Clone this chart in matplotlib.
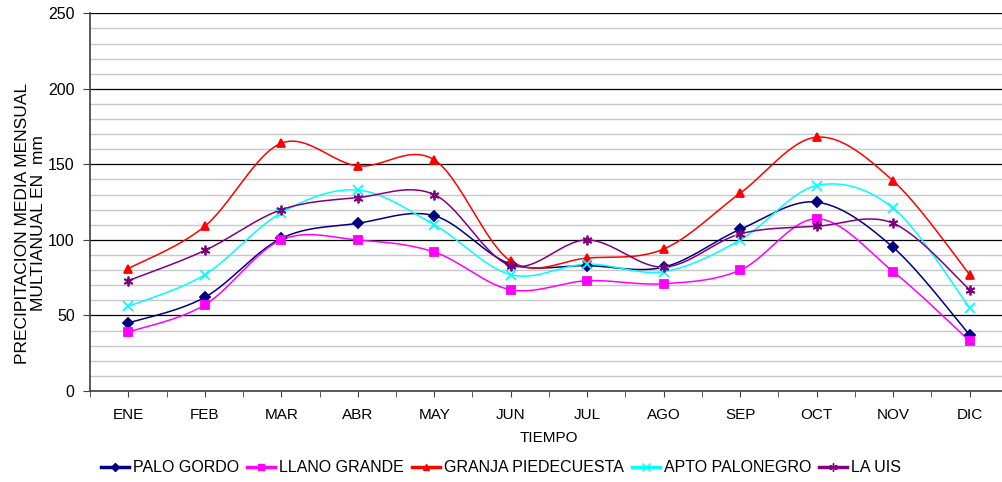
"""
Precipitación media mensual multianual por estación.
Líneas suavizadas al estilo de Excel (curvas Bezier tipo Catmull-Rom).
"""

import matplotlib

matplotlib.use("Agg")
import matplotlib.pyplot as plt
import numpy as np
from matplotlib.lines import Line2D

matplotlib.rcParams["font.family"] = ["Liberation Sans", "DejaVu Sans"]

# datos (mm)
months = ["ENE", "FEB", "MAR", "ABR", "MAY", "JUN",
          "JUL", "AGO", "SEP", "OCT", "NOV", "DIC"]
palo_gordo = [45, 62, 101, 111, 116, 84, 83, 82, 107, 125, 95, 37]
llano_grande = [39, 57, 100, 100, 92, 67, 73, 71, 80, 114, 79, 33]
granja_piedecuesta = [81, 109, 164, 149, 153, 86, 88, 94, 131, 168, 139, 77]
apto_palonegro = [56, 77, 118, 133, 110, 77, 84, 79, 100, 136, 121, 55]
la_uis = [73, 93, 120, 128, 130, 83, 100, 82, 104, 109, 111, 67]

series_names = ["PALO GORDO", "LLANO GRANDE", "GRANJA PIEDECUESTA",
                "APTO PALONEGRO", "LA UIS"]
series_values = [palo_gordo, llano_grande, granja_piedecuesta,
                 apto_palonegro, la_uis]
colors = ["#000080", "#FF00FF", "#FF0000", "#00FFFF", "#800080"]
markers = ["D", "s", "^", "x", (6, 2, 0)]
marker_sizes = [5, 6, 6, 7, 7]

FONT_SIZE = 11


def smooth_curve(x, y, steps=30):
    """Curva suavizada que pasa por todos los puntos (Bezier cúbica)."""
    points = np.column_stack([x, y]).astype(float)
    n = len(points)
    xs, ys = [], []
    t = np.linspace(0, 1, steps)[:, None]
    for i in range(n - 1):
        p0 = points[max(i - 1, 0)]
        p1 = points[i]
        p2 = points[i + 1]
        p3 = points[min(i + 2, n - 1)]
        c1 = p1 + (p2 - p0) / 6
        c2 = p2 - (p3 - p1) / 6
        curve = ((1 - t) ** 3 * p1 + 3 * (1 - t) ** 2 * t * c1
                 + 3 * (1 - t) * t ** 2 * c2 + t ** 3 * p2)
        xs.append(curve[:, 0])
        ys.append(curve[:, 1])
    return np.concatenate(xs), np.concatenate(ys)


figure = plt.figure(figsize=(10.02, 4.82), dpi=100)
axis = figure.add_axes([90 / 1002, 91 / 482, 918 / 1002, 377.7 / 482])

positions = np.arange(len(months))
for name, values, color, marker, size in zip(
        series_names, series_values, colors, markers, marker_sizes):
    curve_x, curve_y = smooth_curve(positions, values)
    axis.plot(curve_x, curve_y, color=color, linewidth=1.1, zorder=3)
    axis.plot(positions, values, linestyle="none", marker=marker,
              markersize=size, color=color, markeredgecolor=color,
              markeredgewidth=1.3, zorder=4)

axis.set_xlim(-0.5, len(months) - 0.5)
axis.set_ylim(0, 250)

axis.set_yticks(np.arange(0, 251, 50))
axis.set_yticks(np.arange(0, 251, 10), minor=True)
axis.grid(axis="y", which="minor", color="#c8c8c8", linewidth=1.0)
axis.grid(axis="y", which="major", color="#000000", linewidth=0.9)
axis.set_axisbelow(True)

axis.set_xticks(np.arange(-0.5, len(months), 0.5), minor=True)
axis.set_xticks(positions)
axis.set_xticklabels(months)
axis.tick_params(axis="x", which="both", length=4, direction="out",
                 color="#404040", pad=8.5, labelsize=FONT_SIZE)
axis.tick_params(axis="y", which="major", length=5, direction="out",
                 color="#404040", pad=6, labelsize=11.5)
axis.tick_params(axis="y", which="minor", length=0)

for side in ["top", "right"]:
    axis.spines[side].set_visible(False)
for side in ["left", "bottom"]:
    axis.spines[side].set_color("#404040")
    axis.spines[side].set_linewidth(1.2)

axis.set_xlabel("TIEMPO", fontsize=FONT_SIZE, labelpad=6)
axis.set_ylabel("PRECIPITACION MEDIA MENSUAL\nMULTIANUAL EN  mm",
                fontsize=12.5, linespacing=1.05)
axis.yaxis.set_label_coords(-44 / 918, (391 - 223) / 378)

handles = [
    Line2D([], [], color=color, linewidth=2.5, marker=marker,
           markersize=size - 1, markeredgecolor=color)
    for color, marker, size in zip(colors, markers, marker_sizes)
]
figure.legend(handles, series_names, loc="center", ncol=5,
              bbox_to_anchor=(0.5, 1 - 468 / 482), frameon=False,
              fontsize=11.5, handlelength=1.75, handletextpad=0.26,
              columnspacing=0.5)

figure.savefig("out.png", dpi=100)
plt.close(figure)
